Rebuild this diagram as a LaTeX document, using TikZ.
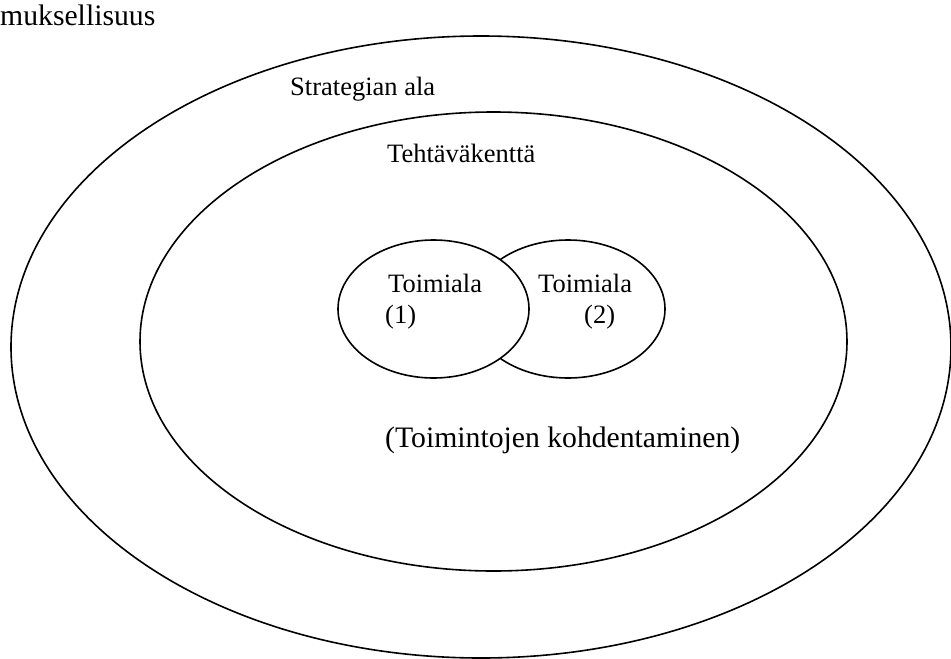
\documentclass[tikz,border=0pt]{standalone}
\usepackage{fontspec}
\setmainfont{Liberation Serif}
\usetikzlibrary{shapes.geometric}
\begin{document}
\begin{tikzpicture}[x=1pt,y=-1pt,
  ring/.style={draw=black,line width=1.6pt,ellipse,inner sep=0pt,outer sep=0pt},
  lbl/.style={inner sep=0pt,anchor=base west,font=\fontsize{26.5}{30}\selectfont},
  biglbl/.style={lbl,font=\fontsize{29.7}{34}\selectfont}]
\useasboundingbox (0,0) rectangle (951,659);
% nested fields
\node[ring,minimum width=940pt,minimum height=622pt] (outer) at (481,347) {};
\node[ring,minimum width=707pt,minimum height=459pt] (inner) at (493.5,341.5) {};
% two overlapping business areas, the first drawn over the second
\node[ring,fill=white,minimum width=194pt,minimum height=138pt] (dom2) at (568,309) {};
\node[ring,fill=white,minimum width=191pt,minimum height=138pt] (dom1) at (433.5,309) {};
% labels
\node[biglbl] (t0) at (0,25) {muksellisuus};
\node[lbl] (t1) at (290,95) {Strategian ala};
\node[lbl] (t2) at (387,162) {Tehtäväkenttä};
\node[lbl] (t3) at (388,292) {Toimiala};
\node[lbl] (t4) at (385,323) {(1)};
\node[lbl] (t5) at (538,292) {Toimiala};
\node[lbl] (t6) at (584,323) {(2)};
\node[biglbl] (t7) at (385,447) {(Toimintojen kohdentaminen)};
\end{tikzpicture}
\end{document}
